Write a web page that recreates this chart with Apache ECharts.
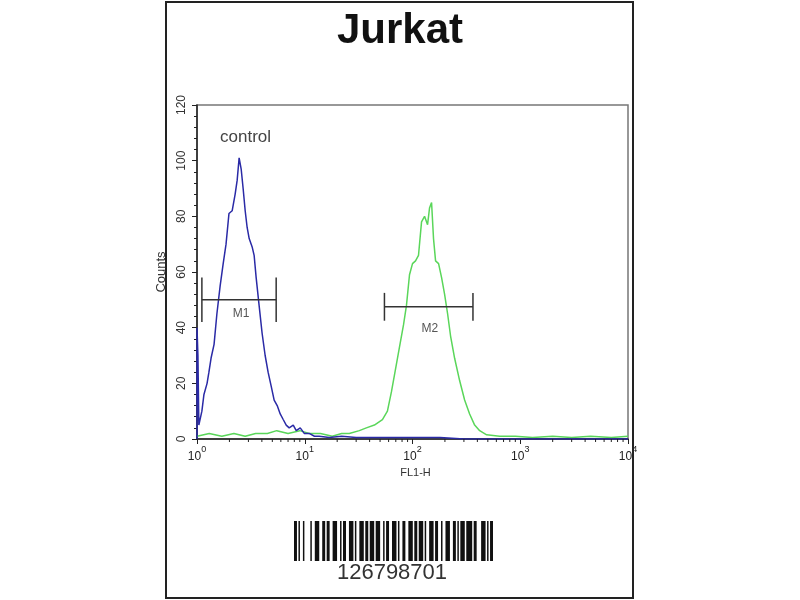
<!DOCTYPE html>
<html>
<head>
<meta charset="utf-8">
<script src="https://cdn.jsdelivr.net/npm/echarts@6/dist/echarts.min.js"></script>
<style>html,body{margin:0;padding:0;background:#fff;}#main{width:800px;height:600px;}</style>
</head>
<body>
<div id="main"></div>
<script>
// ---- data ----
const titleText = 'Jurkat';
const yAxisName = 'Counts';
const xAxisName = 'FL1-H';
const yTicks = [0, 20, 40, 60, 80, 100, 120];
const xTickExponents = ['0', '1', '2', '3', '4'];
const xMinorTicks = [2,3,4,5,6,7,8,9,20,30,40,50,60,70,80,90,200,300,400,500,600,700,800,900,2000,3000,4000,5000,6000,7000,8000,9000];

const controlName = 'control';
const controlX = [1.00, 1.00, 1.02, 1.04, 1.11, 1.16, 1.24, 1.29, 1.35, 1.44, 1.53, 1.64, 1.75, 1.86, 1.98, 2.12, 2.26, 2.36, 2.46, 2.57, 2.68, 2.80, 2.92, 3.05, 3.25, 3.39, 3.54, 3.77, 4.02, 4.29, 4.57, 4.88, 5.20, 5.55, 5.92, 6.31, 6.73, 7.17, 7.82, 8.34, 9.08, 9.89, 11.0, 12.3, 13.6, 16.9, 22, 30, 45, 70, 110, 180, 300, 500, 1000, 3000, 10000];
const controlY = [0, 40, 30, 5, 10, 16, 20, 24, 29, 34, 45, 55, 63, 70, 81, 82, 88, 93, 101, 97, 90, 82, 76, 72, 69, 66, 58, 48, 38, 30, 24, 19, 14, 12, 9, 7, 5, 4, 5, 3, 4, 2, 2, 1, 1, 0.5, 1, 0.5, 0.5, 0.5, 0.5, 0.5, 0, 0, 0, 0, 0];

const sampleName = 'sample';
const sampleX = [1.0, 1.3, 1.7, 2.2, 2.8, 3.5, 4.5, 5.5, 7, 9, 11, 14, 18, 22, 25.9, 32.1, 37.3, 44.3, 52.6, 58.5, 63.8, 69.5, 75.7, 82.5, 87.9, 93.8, 100, 106.7, 113.7, 121.3, 129.4, 138.0, 143.9, 150.3, 156.7, 163.7, 174.6, 186.2, 198.6, 211.7, 225.6, 246, 273.7, 304.6, 339, 377.4, 420.1, 487.8, 644, 900, 1300, 2000, 3000, 4500, 7000, 10000];
const sampleY = [1, 2, 1, 2, 1, 2, 2, 3, 2, 3, 2, 2, 1, 2, 2, 3, 4, 5, 7, 10, 17, 25, 33, 41, 48, 59, 63, 64, 66, 78, 80, 77, 83, 85, 72, 64, 63, 58, 52, 45, 37, 29, 21, 14, 9, 5, 3, 1.5, 1, 1, 0.5, 1, 0.5, 1, 0.5, 1];

const gateNames = ['M1', 'M2'];
const gateStart = [1.11, 54.9];
const gateEnd = [5.43, 364];
const gateLevel = [50, 47.5];
const gateCapHalf = [8, 5];
const gateLabelX = [2.56, 145];
const gateLabelY = [45, 39.5];

const controlLabelX = 2.82;
const controlLabelY = 108.5;

const barcodeText = '126798701';

// ---- barcode (Code 128 B) ----
const c128 = {104:'211214', 16:'123122', 17:'123221', 18:'223211', 22:'223112', 23:'312131', 24:'311222', 25:'321122', 99:'113141', 106:'2331112'};
function barcodeRects(text, x0, y0, w, h) {
  const codes = [104];
  let sum = 104;
  for (let i = 0; i < text.length; i++) {
    const v = text.charCodeAt(i) - 32;
    codes.push(v);
    sum += v * (i + 1);
  }
  codes.push(sum % 103);
  codes.push(106);
  let pattern = '';
  codes.forEach(c => { pattern += c128[c]; });
  let total = 0;
  for (const ch of pattern) total += +ch;
  const m = w / total;
  const rects = [];
  let x = x0, bar = true;
  for (const ch of pattern) {
    const ww = (+ch) * m;
    if (bar) rects.push({type: 'rect', shape: {x: x, y: y0, width: ww, height: h}, style: {fill: '#111'}, silent: true});
    x += ww; bar = !bar;
  }
  return rects;
}

const chart = echarts.init(document.getElementById('main'), null, {renderer: 'canvas'});
const FONT = 'Liberation Sans, Arial, sans-serif';

const option = {
  backgroundColor: '#fff',
  animation: false,
  title: {
    text: titleText,
    left: 332,
    top: 5,
    textStyle: {fontFamily: FONT, fontWeight: 'bold', fontSize: 42, color: '#111'}
  },
  grid: {left: 197, right: 172, top: 105, bottom: 161, show: true, borderColor: '#777', borderWidth: 1.5},
  xAxis: {
    type: 'log', logBase: 10, min: 1, max: 10000,
    name: xAxisName, nameLocation: 'middle', nameGap: 23,
    nameTextStyle: {fontFamily: FONT, fontSize: 11, color: '#333', padding: [0, 0, 0, 6]},
    axisLine: {show: true, onZero: false, lineStyle: {color: '#222', width: 1.5}},
    axisTick: {show: true, length: 5, lineStyle: {color: '#222'}},
    minorTick: {show: false},
    splitLine: {show: false},
    axisLabel: {
      margin: 6,
      formatter: function (v) {
        const e = xTickExponents[Math.round(Math.log10(v))];
        return '{b|10}{s|' + e + '}';
      },
      rich: {
        b: {fontFamily: FONT, fontSize: 12, color: '#222', verticalAlign: 'bottom', lineHeight: 18},
        s: {fontFamily: FONT, fontSize: 9, color: '#222', verticalAlign: 'top', lineHeight: 18}
      }
    }
  },
  yAxis: {
    type: 'value', min: yTicks[0], max: yTicks[yTicks.length - 1], interval: 20,
    name: yAxisName, nameLocation: 'middle', nameGap: 29, nameRotate: 90,
    nameTextStyle: {fontFamily: FONT, fontSize: 13, color: '#333'},
    axisLine: {show: true, lineStyle: {color: '#222', width: 1.5}},
    axisTick: {show: true, length: 5, lineStyle: {color: '#222'}},
    minorTick: {show: true, splitNumber: 5, length: 3, lineStyle: {color: '#222'}},
    splitLine: {show: false},
    minorSplitLine: {show: false},
    axisLabel: {rotate: 90, margin: 9, fontFamily: FONT, fontSize: 12, color: '#333'}
  },
  series: [
    {
      name: sampleName, type: 'line', showSymbol: false, symbol: 'none',
      lineStyle: {color: '#5ad65a', width: 1.5},
      data: sampleX.map((x, i) => [x, sampleY[i]]), z: 2
    },
    {
      name: controlName, type: 'line', showSymbol: false, symbol: 'none',
      lineStyle: {color: '#2a2aa6', width: 1.5},
      data: controlX.map((x, i) => [x, controlY[i]]), z: 3
    },
    {
      name: 'gates', type: 'custom', clip: false, z: 4,
      data: gateNames.map((n, i) => [gateStart[i], gateEnd[i], gateLevel[i], gateCapHalf[i], gateLabelX[i], gateLabelY[i], n]),
      renderItem: function (params, api) {
        const a = api.coord([api.value(0), api.value(2)]);
        const b = api.coord([api.value(1), api.value(2)]);
        const top = api.coord([api.value(0), api.value(2) + api.value(3)]);
        const bot = api.coord([api.value(0), api.value(2) - api.value(3)]);
        const lp = api.coord([api.value(4), api.value(5)]);
        const st = {stroke: '#333', lineWidth: 1.5};
        return {
          type: 'group',
          children: [
            {type: 'line', shape: {x1: a[0], y1: a[1], x2: b[0], y2: b[1]}, style: st},
            {type: 'line', shape: {x1: a[0], y1: top[1], x2: a[0], y2: bot[1]}, style: st},
            {type: 'line', shape: {x1: b[0], y1: top[1], x2: b[0], y2: bot[1]}, style: st},
            {type: 'text', style: {x: lp[0], y: lp[1], text: api.value(6), fill: '#555', fontFamily: FONT, fontSize: 12, align: 'center', verticalAlign: 'middle'}}
          ]
        };
      }
    },
    {
      name: 'label', type: 'custom', clip: false, z: 4,
      data: [[controlLabelX, controlLabelY, controlName]],
      renderItem: function (params, api) {
        const p = api.coord([api.value(0), api.value(1)]);
        return {type: 'text', style: {x: p[0], y: p[1], text: api.value(2), fill: '#444', fontFamily: FONT, fontSize: 17, align: 'center', verticalAlign: 'middle'}};
      }
    },
    {
      name: 'minorTicks', type: 'custom', clip: false, z: 5,
      data: xMinorTicks.map(v => [v, 0]),
      renderItem: function (params, api) {
        const p = api.coord([api.value(0), 0]);
        return {type: 'line', shape: {x1: p[0], y1: p[1], x2: p[0], y2: p[1] + 3}, style: {stroke: '#222', lineWidth: 1}};
      }
    }
  ],
  graphic: [
    {type: 'rect', shape: {x: 166, y: 2, width: 467, height: 596}, style: {fill: 'none', stroke: '#222', lineWidth: 2}, silent: true, z: 0},
    {type: 'group', children: barcodeRects(barcodeText, 294, 521, 199, 40)},
    {type: 'text', x: 392, y: 573, style: {text: barcodeText, fill: '#333', fontFamily: FONT, fontSize: 22, align: 'center', verticalAlign: 'middle'}}
  ]
};
chart.setOption(option);
</script>
</body>
</html>
